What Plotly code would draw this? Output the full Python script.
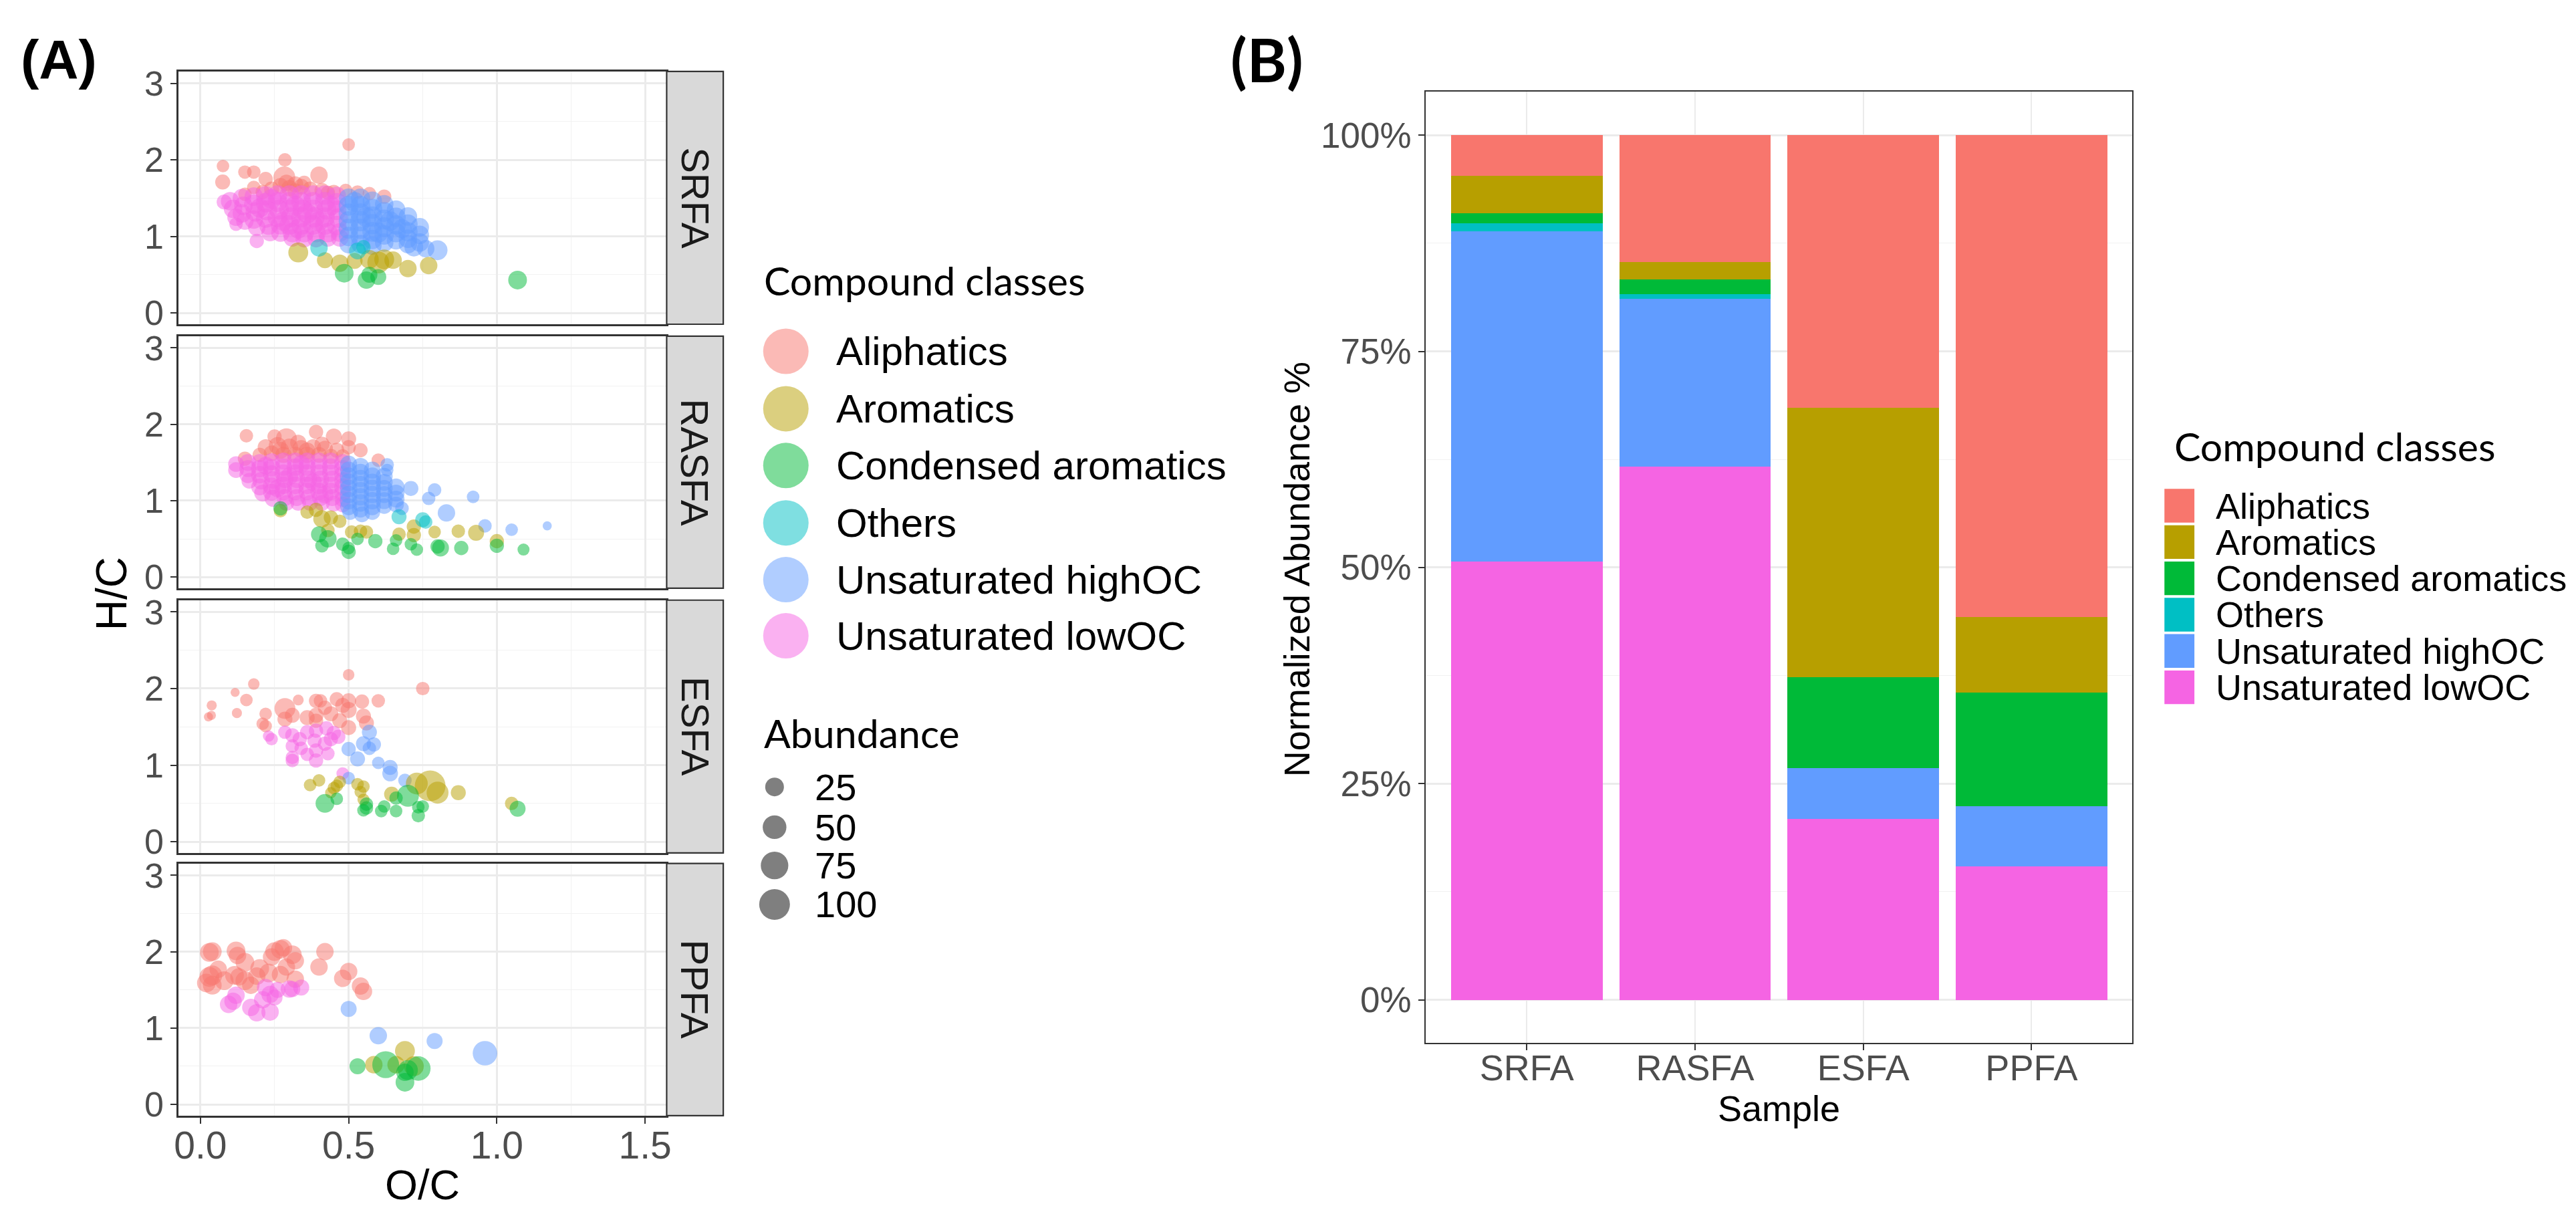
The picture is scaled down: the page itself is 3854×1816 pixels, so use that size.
import math
import plotly.graph_objects as go

W, H = 3854, 1816

SAMPLES = ["SRFA", "RASFA", "ESFA", "PPFA"]
CLASSES = ["Aliphatics", "Aromatics", "Condensed aromatics", "Others",
           "Unsaturated highOC", "Unsaturated lowOC"]
CLASS_COLORS = ["#F8766D", "#B79F00", "#00BA38", "#00BFC4", "#619CFF", "#F564E3"]

# ---------------- Panel B: normalized abundance (%) per sample ----------------
BAR_ALIPHATICS = [4.7, 14.7, 31.5, 55.7]
BAR_AROMATICS = [4.3, 2.0, 31.2, 8.8]
BAR_CONDENSED = [1.2, 1.7, 10.5, 13.1]
BAR_OTHERS = [0.9, 0.5, 0.0, 0.0]
BAR_HIGHOC = [38.2, 19.4, 5.9, 7.0]
BAR_LOWOC = [50.7, 61.7, 20.9, 15.4]

ABUNDANCE_BREAKS = [25, 50, 75, 100]
HC_TICKS = [0, 1, 2, 3]
OC_TICKS = [0.0, 0.5, 1.0, 1.5]
PCT_TICKS = [0, 25, 50, 75, 100]

# ---------------- Panel A: van Krevelen points (O/C, H/C, abundance) ----------------
SRFA_ALIPHATICS = [(0.076, 1.92, 6), (0.075, 1.71, 12), (0.15, 1.84, 8), (0.18, 1.84, 8), (0.285, 2.0, 8),
                   (0.22, 1.75, 10), (0.283, 1.77, 40), (0.40, 1.80, 20), (0.50, 2.20, 6), (0.18, 1.64, 8),
                   (0.62, 1.52, 10), (0.32, 1.68, 15), (0.15, 1.55, 8), (0.24, 1.62, 12), (0.27, 1.66, 14),
                   (0.30, 1.63, 16), (0.34, 1.65, 14), (0.37, 1.62, 12), (0.41, 1.60, 12), (0.45, 1.58, 10),
                   (0.49, 1.60, 8), (0.53, 1.58, 8), (0.57, 1.56, 8), (0.35, 1.70, 10), (0.29, 1.70, 16),
                   (0.21, 1.58, 10), (0.32, 1.59, 14), (0.43, 1.57, 10)]
SRFA_LOWOC = [(0.10, 1.46, 24), (0.11, 1.36, 24), (0.12, 1.25, 20), (0.14, 1.50, 24), (0.145, 1.40, 24),
              (0.14, 1.30, 24), (0.15, 1.20, 20), (0.18, 1.52, 24), (0.18, 1.42, 28), (0.185, 1.32, 28),
              (0.18, 1.22, 24), (0.19, 1.12, 20), (0.22, 1.53, 28), (0.22, 1.44, 28), (0.225, 1.34, 30),
              (0.22, 1.24, 28), (0.23, 1.14, 24), (0.235, 1.05, 20), (0.26, 1.54, 28), (0.26, 1.45, 30),
              (0.265, 1.35, 30), (0.26, 1.25, 30), (0.27, 1.15, 28), (0.27, 1.05, 24), (0.30, 1.54, 28),
              (0.30, 1.45, 30), (0.30, 1.35, 32), (0.305, 1.25, 30), (0.30, 1.15, 30), (0.31, 1.05, 28),
              (0.31, 0.98, 20), (0.34, 1.54, 28), (0.34, 1.45, 30), (0.345, 1.35, 32), (0.34, 1.25, 32),
              (0.34, 1.15, 30), (0.35, 1.05, 28), (0.35, 0.97, 20), (0.38, 1.54, 28), (0.38, 1.45, 30),
              (0.38, 1.35, 32), (0.385, 1.25, 32), (0.38, 1.15, 30), (0.39, 1.05, 28), (0.39, 0.97, 20),
              (0.42, 1.54, 28), (0.42, 1.45, 30), (0.425, 1.35, 30), (0.42, 1.25, 30), (0.42, 1.15, 30),
              (0.43, 1.05, 28), (0.43, 0.98, 20), (0.46, 1.53, 24), (0.46, 1.44, 28), (0.46, 1.34, 28),
              (0.465, 1.24, 28), (0.46, 1.14, 28), (0.47, 1.05, 24), (0.47, 0.98, 20), (0.12, 1.16, 8),
              (0.19, 0.94, 10), (0.08, 1.45, 12), (0.24, 1.49, 30), (0.32, 1.40, 30), (0.36, 1.30, 30),
              (0.40, 1.20, 30), (0.28, 1.20, 28), (0.44, 1.40, 28), (0.20, 1.37, 26), (0.33, 1.10, 28)]
SRFA_HIGHOC = [(0.50, 1.50, 28), (0.50, 1.40, 30), (0.50, 1.30, 30), (0.50, 1.20, 30), (0.50, 1.10, 30),
               (0.50, 1.00, 28), (0.50, 0.90, 24), (0.54, 1.50, 28), (0.54, 1.40, 30), (0.54, 1.30, 32),
               (0.54, 1.20, 32), (0.54, 1.10, 32), (0.54, 1.00, 30), (0.54, 0.90, 24), (0.58, 1.46, 28),
               (0.58, 1.36, 30), (0.58, 1.26, 32), (0.58, 1.16, 32), (0.58, 1.06, 30), (0.58, 0.96, 28),
               (0.58, 0.88, 24), (0.62, 1.42, 24), (0.62, 1.32, 30), (0.62, 1.22, 30), (0.62, 1.12, 30),
               (0.62, 1.02, 28), (0.62, 0.92, 24), (0.66, 1.35, 24), (0.66, 1.25, 28), (0.66, 1.15, 28),
               (0.66, 1.05, 28), (0.66, 0.95, 24), (0.70, 1.26, 24), (0.70, 1.16, 28), (0.70, 1.06, 28),
               (0.70, 0.97, 24), (0.70, 0.90, 24), (0.74, 1.12, 24), (0.74, 1.02, 24), (0.74, 0.92, 24),
               (0.80, 0.82, 30), (0.76, 0.84, 20), (0.72, 0.86, 25), (0.52, 1.45, 30), (0.56, 1.25, 30),
               (0.60, 1.05, 30), (0.64, 1.20, 28), (0.68, 1.10, 26)]
SRFA_AROMATICS = [(0.33, 0.79, 30), (0.42, 0.69, 15), (0.47, 0.65, 20), (0.60, 0.66, 40), (0.62, 0.70, 30),
                  (0.65, 0.69, 20), (0.70, 0.58, 20), (0.77, 0.62, 20), (0.57, 0.70, 25), (0.52, 0.68, 15)]
SRFA_CONDENSED = [(0.485, 0.52, 25), (0.56, 0.43, 20), (0.60, 0.47, 15), (1.07, 0.43, 25), (0.57, 0.50, 15)]
SRFA_OTHERS = [(0.40, 0.85, 20), (0.53, 0.81, 18), (0.55, 0.86, 10)]

RASFA_ALIPHATICS = [(0.155, 1.85, 8), (0.25, 1.84, 10), (0.29, 1.81, 35), (0.39, 1.90, 10), (0.45, 1.84, 15),
                    (0.50, 1.81, 12), (0.54, 1.66, 10), (0.60, 1.53, 8), (0.15, 1.55, 10), (0.22, 1.70, 15),
                    (0.26, 1.72, 20), (0.30, 1.70, 20), (0.34, 1.68, 20), (0.38, 1.70, 15), (0.42, 1.68, 15),
                    (0.46, 1.66, 12), (0.24, 1.62, 14), (0.28, 1.60, 16), (0.32, 1.60, 16), (0.36, 1.60, 16),
                    (0.40, 1.60, 14), (0.44, 1.58, 12), (0.48, 1.58, 10), (0.20, 1.60, 10), (0.33, 1.76, 15),
                    (0.27, 1.66, 18), (0.36, 1.65, 18), (0.41, 1.74, 12), (0.50, 1.70, 10)]
RASFA_LOWOC = [(0.12, 1.48, 14), (0.12, 1.40, 14), (0.16, 1.50, 18), (0.16, 1.42, 18), (0.16, 1.34, 18),
               (0.165, 1.26, 14), (0.20, 1.50, 18), (0.20, 1.42, 20), (0.20, 1.34, 20), (0.205, 1.26, 20),
               (0.20, 1.18, 18), (0.21, 1.10, 18), (0.24, 1.51, 18), (0.24, 1.43, 20), (0.24, 1.35, 20),
               (0.245, 1.27, 20), (0.24, 1.19, 20), (0.24, 1.11, 18), (0.245, 1.03, 18), (0.28, 1.52, 18),
               (0.28, 1.44, 20), (0.28, 1.36, 20), (0.285, 1.28, 20), (0.28, 1.20, 20), (0.28, 1.12, 20),
               (0.285, 1.04, 18), (0.29, 0.97, 14), (0.32, 1.52, 18), (0.32, 1.44, 20), (0.32, 1.36, 20),
               (0.325, 1.28, 20), (0.32, 1.20, 20), (0.32, 1.12, 20), (0.325, 1.04, 18), (0.33, 0.97, 14),
               (0.36, 1.52, 18), (0.36, 1.44, 20), (0.36, 1.36, 20), (0.365, 1.28, 20), (0.36, 1.20, 20),
               (0.36, 1.12, 20), (0.365, 1.04, 18), (0.37, 0.97, 14), (0.40, 1.52, 18), (0.40, 1.44, 20),
               (0.40, 1.36, 20), (0.405, 1.28, 20), (0.40, 1.20, 20), (0.40, 1.12, 20), (0.405, 1.04, 18),
               (0.41, 0.97, 14), (0.44, 1.52, 18), (0.44, 1.44, 20), (0.44, 1.36, 20), (0.445, 1.28, 20),
               (0.44, 1.20, 20), (0.44, 1.12, 20), (0.445, 1.04, 18), (0.45, 0.96, 14), (0.48, 1.50, 18),
               (0.48, 1.42, 18), (0.48, 1.34, 18), (0.48, 1.26, 18), (0.48, 1.18, 18), (0.48, 1.10, 18),
               (0.48, 1.02, 14), (0.48, 0.95, 14), (0.22, 1.46, 20), (0.30, 1.32, 20), (0.38, 1.24, 20),
               (0.42, 1.08, 20), (0.26, 1.16, 20), (0.34, 1.48, 20)]
RASFA_HIGHOC = [(0.50, 1.48, 18), (0.50, 1.40, 18), (0.50, 1.32, 20), (0.50, 1.24, 20), (0.50, 1.16, 20),
                (0.50, 1.08, 20), (0.50, 1.00, 20), (0.50, 0.92, 18), (0.505, 0.85, 14), (0.54, 1.45, 18),
                (0.54, 1.37, 20), (0.54, 1.29, 20), (0.54, 1.21, 20), (0.54, 1.13, 20), (0.54, 1.05, 20),
                (0.54, 0.97, 20), (0.54, 0.89, 18), (0.545, 0.82, 14), (0.58, 1.40, 18), (0.58, 1.32, 20),
                (0.58, 1.24, 20), (0.58, 1.16, 20), (0.58, 1.08, 20), (0.58, 1.00, 20), (0.58, 0.92, 18),
                (0.58, 0.85, 14), (0.62, 1.32, 18), (0.62, 1.24, 18), (0.62, 1.16, 18), (0.62, 1.08, 18),
                (0.62, 1.00, 18), (0.62, 0.93, 14), (0.66, 1.18, 18), (0.66, 1.10, 18), (0.66, 1.02, 18),
                (0.66, 0.95, 14), (0.63, 1.47, 8), (0.63, 1.40, 6), (0.71, 1.16, 12), (0.79, 1.14, 8),
                (0.77, 1.03, 8), (0.92, 1.05, 6), (0.83, 0.84, 20), (0.96, 0.67, 8), (1.05, 0.62, 6),
                (1.17, 0.67, 1), (0.68, 0.90, 8)]
RASFA_AROMATICS = [(0.39, 0.88, 10), (0.41, 0.76, 20), (0.44, 0.78, 10), (0.47, 0.73, 8), (0.51, 0.59, 8),
                   (0.54, 0.60, 8), (0.56, 0.59, 8), (0.67, 0.56, 8), (0.72, 0.66, 10), (0.72, 0.55, 10),
                   (0.79, 0.59, 6), (0.87, 0.60, 8), (0.93, 0.58, 15), (1.00, 0.47, 10), (0.27, 0.87, 8),
                   (0.43, 0.61, 8), (0.36, 0.85, 8)]
RASFA_CONDENSED = [(0.40, 0.56, 15), (0.43, 0.50, 20), (0.41, 0.41, 8), (0.48, 0.43, 8), (0.50, 0.33, 10),
                   (0.53, 0.50, 6), (0.59, 0.47, 10), (0.66, 0.48, 6), (0.65, 0.37, 6), (0.71, 0.43, 6),
                   (0.73, 0.36, 6), (0.80, 0.40, 10), (0.81, 0.38, 18), (0.88, 0.38, 10), (1.00, 0.41, 10),
                   (1.09, 0.36, 5), (0.27, 0.90, 10), (0.50, 0.38, 6)]
RASFA_OTHERS = [(0.67, 0.79, 12), (0.75, 0.75, 12), (0.76, 0.72, 8)]

ESFA_ALIPHATICS = [(0.027, 1.63, 1), (0.037, 1.65, 1), (0.038, 1.78, 2), (0.117, 1.95, 1), (0.123, 1.68, 2),
                   (0.155, 1.85, 6), (0.18, 2.06, 4), (0.33, 1.85, 3), (0.50, 2.18, 4), (0.75, 2.00, 8),
                   (0.60, 1.84, 8), (0.285, 1.74, 35), (0.21, 1.54, 6), (0.22, 1.51, 6), (0.22, 1.67, 6),
                   (0.39, 1.84, 10), (0.405, 1.84, 8), (0.46, 1.86, 10), (0.50, 1.84, 12), (0.545, 1.83, 10),
                   (0.39, 1.65, 12), (0.44, 1.67, 12), (0.50, 1.72, 15), (0.55, 1.64, 12), (0.36, 1.62, 12),
                   (0.31, 1.65, 12), (0.47, 1.58, 12), (0.50, 1.49, 12), (0.56, 1.55, 12), (0.39, 1.58, 10),
                   (0.285, 1.60, 12), (0.42, 1.75, 10), (0.48, 1.78, 12)]
ESFA_LOWOC = [(0.23, 1.38, 4), (0.24, 1.34, 6), (0.285, 1.43, 8), (0.31, 1.39, 10), (0.335, 1.34, 10),
              (0.31, 1.25, 8), (0.31, 1.10, 8), (0.31, 1.06, 8), (0.36, 1.43, 10), (0.39, 1.45, 10),
              (0.425, 1.48, 10), (0.44, 1.34, 10), (0.465, 1.37, 10), (0.385, 1.32, 10), (0.39, 1.19, 10),
              (0.43, 1.15, 8), (0.39, 1.06, 10), (0.34, 1.22, 8), (0.36, 1.14, 8), (0.48, 0.89, 6),
              (0.42, 1.28, 10), (0.45, 1.42, 10)]
ESFA_HIGHOC = [(0.57, 1.43, 12), (0.55, 1.28, 12), (0.585, 1.27, 10), (0.57, 1.22, 8), (0.50, 1.21, 10),
               (0.53, 1.08, 12), (0.60, 1.03, 6), (0.64, 0.97, 12), (0.64, 0.89, 14), (0.50, 0.83, 6),
               (0.69, 0.80, 8)]
ESFA_AROMATICS = [(0.37, 0.74, 6), (0.40, 0.80, 6), (0.45, 0.70, 6), (0.46, 0.73, 6), (0.47, 0.78, 6),
                  (0.44, 0.64, 4), (0.53, 0.75, 6), (0.55, 0.72, 6), (0.54, 0.65, 5), (0.55, 0.55, 5),
                  (0.645, 0.62, 12), (0.73, 0.76, 40), (0.775, 0.73, 100), (0.80, 0.64, 40), (0.87, 0.64, 12),
                  (1.05, 0.50, 8)]
ESFA_CONDENSED = [(0.42, 0.50, 25), (0.46, 0.56, 6), (0.56, 0.49, 8), (0.55, 0.41, 6), (0.61, 0.40, 6),
                  (0.62, 0.46, 6), (0.66, 0.40, 6), (0.70, 0.60, 40), (0.66, 0.57, 8), (0.735, 0.45, 6),
                  (0.735, 0.34, 8), (0.75, 0.46, 6), (1.07, 0.43, 15), (0.56, 0.44, 8)]
ESFA_OTHERS = []

PPFA_ALIPHATICS = [(0.03, 1.99, 25), (0.04, 2.00, 25), (0.12, 2.01, 25), (0.125, 1.95, 20), (0.25, 2.00, 25),
                   (0.27, 2.03, 25), (0.28, 2.05, 20), (0.24, 1.93, 20), (0.31, 1.96, 25), (0.32, 1.88, 20),
                   (0.42, 2.00, 20), (0.40, 1.80, 20), (0.50, 1.74, 20), (0.48, 1.65, 20), (0.54, 1.55, 20),
                   (0.55, 1.48, 20), (0.03, 1.67, 30), (0.04, 1.69, 30), (0.02, 1.59, 25), (0.04, 1.56, 25),
                   (0.06, 1.77, 20), (0.115, 1.69, 25), (0.13, 1.67, 20), (0.15, 1.86, 25), (0.15, 1.62, 25),
                   (0.17, 1.56, 20), (0.27, 1.70, 20), (0.29, 1.80, 20), (0.32, 1.64, 20), (0.20, 1.78, 25),
                   (0.23, 1.72, 25), (0.08, 1.62, 25), (0.19, 1.68, 20)]
PPFA_LOWOC = [(0.095, 1.31, 20), (0.11, 1.35, 20), (0.12, 1.43, 20), (0.17, 1.27, 20), (0.19, 1.20, 20),
              (0.235, 1.21, 20), (0.235, 1.44, 20), (0.26, 1.50, 15), (0.30, 1.51, 20), (0.31, 1.51, 15),
              (0.34, 1.53, 15), (0.21, 1.37, 20), (0.22, 1.53, 20), (0.25, 1.40, 15)]
PPFA_HIGHOC = [(0.50, 1.25, 15), (0.60, 0.90, 20), (0.79, 0.83, 15), (0.96, 0.67, 55)]
PPFA_AROMATICS = [(0.69, 0.70, 30), (0.585, 0.52, 20), (0.72, 0.50, 30), (0.66, 0.52, 20)]
PPFA_CONDENSED = [(0.53, 0.50, 15), (0.625, 0.52, 70), (0.69, 0.42, 20), (0.69, 0.29, 25), (0.735, 0.47, 55),
                  (0.70, 0.45, 30)]
PPFA_OTHERS = []

# table used for drawing (built from the named lists above)
POINTS = {
    "SRFA": [SRFA_ALIPHATICS, SRFA_AROMATICS, SRFA_CONDENSED, SRFA_OTHERS, SRFA_HIGHOC, SRFA_LOWOC],
    "RASFA": [RASFA_ALIPHATICS, RASFA_AROMATICS, RASFA_CONDENSED, RASFA_OTHERS, RASFA_HIGHOC, RASFA_LOWOC],
    "ESFA": [ESFA_ALIPHATICS, ESFA_AROMATICS, ESFA_CONDENSED, ESFA_OTHERS, ESFA_HIGHOC, ESFA_LOWOC],
    "PPFA": [PPFA_ALIPHATICS, PPFA_AROMATICS, PPFA_CONDENSED, PPFA_OTHERS, PPFA_HIGHOC, PPFA_LOWOC],
}
BARS = [BAR_ALIPHATICS, BAR_AROMATICS, BAR_CONDENSED, BAR_OTHERS, BAR_HIGHOC, BAR_LOWOC]


def size_px(ab):
    return 10 + 3.6 * math.sqrt(ab)


def rgba(hex_color, a):
    h = hex_color.lstrip("#")
    r, g, b = int(h[0:2], 16), int(h[2:4], 16), int(h[4:6], 16)
    return f"rgba({r},{g},{b},{a})"


def X(px):
    return px / W


def Y(py):
    return 1 - py / H


SANS = "Liberation Sans, Arial, sans-serif"
TITLE_FONT = "Lato, Open Sans, sans-serif"
TICK_GREY = "#4D4D4D"
BORDER = "#333333"

fig = go.Figure()

FACET_TOP = [89, 490, 890, 1289]
FACET_BOT = [472, 872, 1273, 1671]
PANEL_L, PANEL_R = 253, 986
STRIP_R = 1071

DRAW_ORDER = [0, 5, 4, 1, 2, 3]

for i, s in enumerate(SAMPLES):
    for ci in DRAW_ORDER:
        pts = POINTS[s][ci]
        if not pts:
            continue
        fig.add_trace(go.Scatter(
            x=[p[0] for p in pts], y=[p[1] for p in pts],
            mode="markers",
            marker=dict(color=CLASS_COLORS[ci], opacity=0.5,
                        size=[size_px(p[2]) for p in pts], line=dict(width=0)),
            xaxis=f"x{i + 1}", yaxis=f"y{i + 1}", showlegend=False,
            name=CLASSES[ci], hoverinfo="skip"))

for ci in [5, 4, 3, 2, 1, 0]:
    fig.add_trace(go.Bar(
        x=SAMPLES, y=BARS[ci], width=0.9, name=CLASSES[ci],
        marker=dict(color=CLASS_COLORS[ci], line=dict(width=0)),
        xaxis="x5", yaxis="y5", showlegend=False))

layout = dict(
    width=W, height=H, margin=dict(l=0, r=0, t=0, b=0),
    paper_bgcolor="white", plot_bgcolor="white",
    font=dict(family=SANS, color="black"),
    barmode="stack", showlegend=False,
)

for i in range(4):
    xa = dict(
        domain=[X(PANEL_L), X(PANEL_R)], range=[-0.074, 1.573], anchor=f"y{i + 1}",
        tickmode="array", tickvals=OC_TICKS, ticktext=[f"{v:.1f}" for v in OC_TICKS],
        showgrid=True, gridcolor="#EBEBEB", gridwidth=2.5,
        minor=dict(tickmode="array", tickvals=[0.25, 0.75, 1.25], showgrid=True,
                   gridcolor="#F2F2F2", gridwidth=1.3),
        zeroline=False, showline=True, mirror=True, linecolor=BORDER, linewidth=2.5,
        ticks="outside" if i == 3 else "", ticklen=9, tickwidth=2.2, tickcolor=BORDER,
        showticklabels=(i == 3), tickfont=dict(size=57, color=TICK_GREY, family=SANS),
        ticklabelstandoff=-16,
    )
    ya = dict(
        domain=[Y(FACET_BOT[i]), Y(FACET_TOP[i])], range=[-0.147, 3.155], anchor=f"x{i + 1}",
        tickmode="array", tickvals=HC_TICKS, ticktext=[str(v) for v in HC_TICKS],
        showgrid=True, gridcolor="#EBEBEB", gridwidth=2.5,
        minor=dict(tickmode="array", tickvals=[0.5, 1.5, 2.5], showgrid=True,
                   gridcolor="#F2F2F2", gridwidth=1.3),
        zeroline=False, showline=True, mirror=True, linecolor=BORDER, linewidth=2.5,
        ticks="outside", ticklen=9, tickwidth=2.2, tickcolor=BORDER,
        tickfont=dict(size=52, color=TICK_GREY, family=SANS),
    )
    layout[f"xaxis{i + 1}" if i else "xaxis"] = xa
    layout[f"yaxis{i + 1}" if i else "yaxis"] = ya

layout["xaxis5"] = dict(
    domain=[X(2126), X(3187)], anchor="y5", type="category",
    categoryorder="array", categoryarray=SAMPLES, range=[-0.6, 3.6],
    showgrid=True, gridcolor="#EBEBEB", gridwidth=2,
    zeroline=False, showline=True, mirror=True, linecolor="#333333", linewidth=2,
    ticks="outside", ticklen=9, tickwidth=2, tickcolor=BORDER,
    tickfont=dict(size=54, color=TICK_GREY, family=SANS),
    ticklabelstandoff=-20,
)
layout["yaxis5"] = dict(
    domain=[Y(1561), Y(120)], anchor="x5", range=[-5, 105],
    tickmode="array", tickvals=PCT_TICKS, ticktext=[f"{v}%" for v in PCT_TICKS],
    showgrid=True, gridcolor="#EBEBEB", gridwidth=2.5,
    minor=dict(tickmode="array", tickvals=[12.5, 37.5, 62.5, 87.5], showgrid=True,
               gridcolor="#F2F2F2", gridwidth=1.3),
    zeroline=False, showline=True, mirror=True, linecolor="#333333", linewidth=2,
    ticks="outside", ticklen=9, tickwidth=2, tickcolor=BORDER,
    tickfont=dict(size=53, color=TICK_GREY, family=SANS),
)

shapes = []
annotations = []


def ann(text, px, py, size, family=SANS, color="black", xanchor="center", angle=0, bold=False):
    annotations.append(dict(
        text=f"<b>{text}</b>" if bold else text, x=X(px), y=Y(py), xref="paper", yref="paper",
        xanchor=xanchor, yanchor="middle", showarrow=False, textangle=angle,
        font=dict(size=size, family=family, color=color)))


for i, s in enumerate(SAMPLES):
    shapes.append(dict(type="rect", xref="paper", yref="paper",
                       x0=X(PANEL_R), x1=X(STRIP_R), y0=Y(FACET_BOT[i]), y1=Y(FACET_TOP[i]),
                       fillcolor="#D9D9D9", line=dict(color=BORDER, width=2.2), layer="above"))
    ann(s, (PANEL_R + STRIP_R) / 2, (FACET_TOP[i] + FACET_BOT[i]) / 2, 58, color="#1A1A1A", angle=90)

ann("(A)", 73, 70, 82, bold=True)
ann("(B)", 1887, 70, 90, family=TITLE_FONT, bold=True)
ann("H/C", 152, 880, 64, angle=-90)
ann("O/C", (PANEL_L + PANEL_R) / 2, 1775, 63)
ann("Normalized Abundance %", 1932, 843, 54, angle=-90)
ann("Sample", 2656, 1660, 54)

ann("Compound classes", 1130, 406, 59, family=TITLE_FONT, xanchor="left")
LEG_A_Y = [513, 600, 686, 773, 859, 944]
for ci, cls in enumerate(CLASSES):
    cy = LEG_A_Y[ci]
    shapes.append(dict(type="circle", xref="paper", yref="paper", xsizemode="pixel", ysizemode="pixel",
                       xanchor=X(1165), yanchor=Y(cy), x0=-34, x1=34, y0=-34, y1=34,
                       fillcolor=rgba(CLASS_COLORS[ci], 0.5), line=dict(width=0)))
    ann(cls, 1239, cy, 60, xanchor="left")

ann("Abundance", 1130, 1091, 59, family=TITLE_FONT, xanchor="left")
LEG_S_Y = [1173, 1234, 1292, 1351]
for k, ab in enumerate(ABUNDANCE_BREAKS):
    r = size_px(ab) / 2
    shapes.append(dict(type="circle", xref="paper", yref="paper", xsizemode="pixel", ysizemode="pixel",
                       xanchor=X(1148), yanchor=Y(LEG_S_Y[k]), x0=-r, x1=r, y0=-r, y1=r,
                       fillcolor="rgba(0,0,0,0.5)", line=dict(width=0)))
    ann(str(ab), 1206, LEG_S_Y[k], 56, xanchor="left")

ann("Compound classes", 3248, 657, 59, family=TITLE_FONT, xanchor="left")
LEG_B_Y = [747, 802, 857, 912, 967, 1022]
for ci, cls in enumerate(CLASSES):
    cy = LEG_B_Y[ci]
    shapes.append(dict(type="rect", xref="paper", yref="paper",
                       x0=X(3235), x1=X(3280), y0=Y(cy + 25.5), y1=Y(cy - 25.5),
                       fillcolor=CLASS_COLORS[ci], line=dict(width=0)))
    ann(cls, 3310, cy, 54, xanchor="left")

layout["shapes"] = shapes
layout["annotations"] = annotations
fig.update_layout(**layout)

fig.write_html("out.html")
